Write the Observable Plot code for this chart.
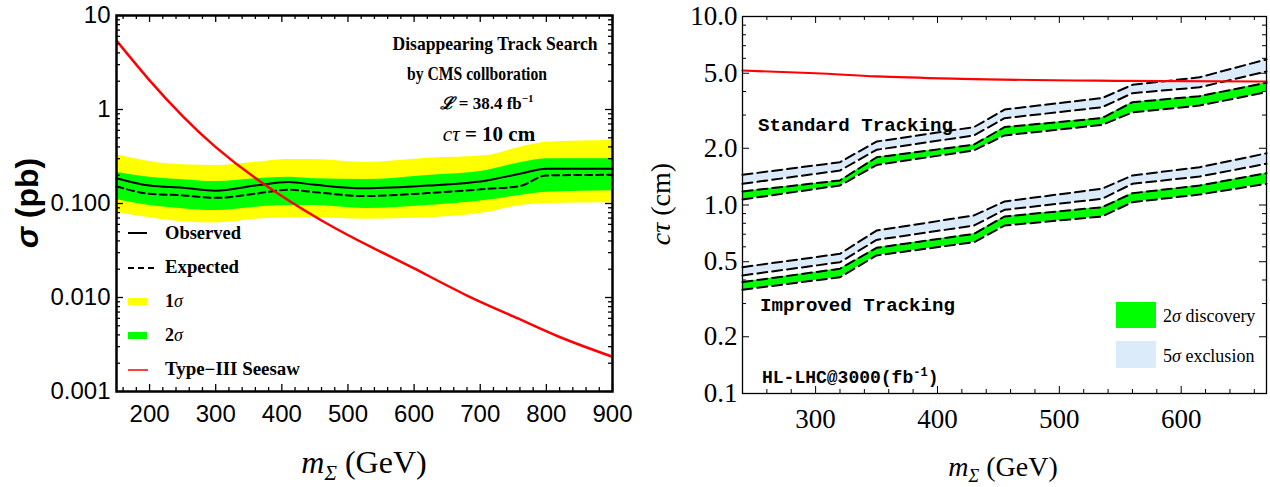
<!DOCTYPE html>
<html><head><meta charset="utf-8">
<script src="https://cdn.jsdelivr.net/npm/d3@7"></script>
<script src="https://cdn.jsdelivr.net/npm/@observablehq/plot@0.6"></script>
<style>
body{margin:0;background:#fff;}
#wrap{position:relative;width:1270px;height:487px;display:flex;background:#fff;}
#wrap svg{display:block;flex:none;}
</style></head><body><div id="wrap"></div>
<script>
// ---------- Left panel data (sigma in pb vs m_Sigma in GeV) ----------
const massL      = [150, 200, 250, 300, 360, 410, 450, 525, 620, 710, 760, 800, 900];
const observed   = [0.186, 0.155, 0.147, 0.137, 0.155, 0.169, 0.158, 0.145, 0.155, 0.176, 0.207, 0.234, 0.234];
const expected   = [0.152, 0.127, 0.122, 0.115, 0.127, 0.140, 0.132, 0.120, 0.129, 0.143, 0.153, 0.199, 0.202];
const greenHi    = [0.215, 0.190, 0.179, 0.171, 0.183, 0.190, 0.183, 0.180, 0.199, 0.225, 0.271, 0.299, 0.299];
const greenLo    = [0.110, 0.095, 0.088, 0.084, 0.0914, 0.095, 0.095, 0.0885, 0.095, 0.108, 0.122, 0.132, 0.137];
const yellowHi   = [0.330, 0.280, 0.258, 0.254, 0.275, 0.294, 0.294, 0.273, 0.303, 0.324, 0.397, 0.449, 0.468];
const yellowLo   = [0.080, 0.0705, 0.064, 0.062, 0.068, 0.0705, 0.0705, 0.068, 0.0705, 0.080, 0.095, 0.100, 0.102];
const massSeesaw = [150, 200, 250, 300, 370, 460, 540, 600, 680, 750, 820, 900];
const sigmaSeesaw= [5.4, 2.04, 0.85, 0.398, 0.166, 0.066, 0.0331, 0.0204, 0.0105, 0.0063, 0.0038, 0.00234];
const xTicksL = [200, 300, 400, 500, 600, 700, 800, 900];
const yTicksL = [0.001, 0.01, 0.1, 1, 10];
const yTickLabelsL = ["0.001", "0.010", "0.100", "1", "10"];

// ---------- Right panel data (c tau in cm vs m_Sigma in GeV) ----------
const massR = [240, 320, 350, 430, 455, 535, 560, 615, 670];
const std5Hi = [1.446, 1.687, 2.17, 2.59, 3.21, 3.69, 4.34, 4.76, 5.92];
const std5Lo = [1.296, 1.524, 1.963, 2.34, 2.887, 3.30, 3.92, 4.21, 5.11];
const std2Hi = [1.18, 1.35, 1.79, 2.09, 2.59, 2.89, 3.51, 3.78, 4.45];
const std2Lo = [1.07, 1.27, 1.63, 1.95, 2.34, 2.66, 3.10, 3.37, 3.97];
const imp5Hi = [0.468, 0.551, 0.732, 0.880, 1.044, 1.22, 1.434, 1.587, 1.88];
const imp5Lo = [0.423, 0.497, 0.653, 0.778, 0.943, 1.079, 1.296, 1.416, 1.655];
const imp2Hi = [0.390, 0.459, 0.593, 0.703, 0.869, 0.973, 1.155, 1.269, 1.475];
const imp2Lo = [0.355, 0.414, 0.540, 0.635, 0.778, 0.869, 1.035, 1.137, 1.296];
const massRed = [240, 300, 350, 420, 550, 670];
const ctauRed = [5.17, 5.0, 4.81, 4.67, 4.56, 4.52];
const xTicksR = [300, 400, 500, 600];
const yTicksR = [0.1, 0.2, 0.5, 1, 2, 5, 10];
const yTickLabelsR = ["0.1", "0.2", "0.5", "1.0", "2.0", "5.0", "10.0"];

// ---------- derived tables ----------
const dataL = massL.map((m, i) => ({m, obs: observed[i], exp: expected[i], gHi: greenHi[i], gLo: greenLo[i], yHi: yellowHi[i], yLo: yellowLo[i]}));
const seesawL = massSeesaw.map((m, i) => ({m, s: sigmaSeesaw[i]}));
const dataR = massR.map((m, i) => ({m, s5Hi: std5Hi[i], s5Lo: std5Lo[i], s2Hi: std2Hi[i], s2Lo: std2Lo[i], i5Hi: imp5Hi[i], i5Lo: imp5Lo[i], i2Hi: imp2Hi[i], i2Lo: imp2Lo[i]}));
const redR = massRed.map((m, i) => ({m, c: ctauRed[i]}));

function logMinors(lo, hi) {
  const out = [];
  for (let d = lo; d < hi * 0.999; d *= 10) for (let k = 2; k <= 9; k++) out.push(d * k);
  return out;
}
function frameTicks(xMaj, xMin, yMaj, yMin, W, H, maj, min, sw) {
  const o = {stroke: "black", strokeWidth: sw};
  return [
    Plot.tickX(xMaj, {x: d => d, insetTop: H - maj, ...o}),
    Plot.tickX(xMaj, {x: d => d, insetBottom: H - maj, ...o}),
    Plot.tickX(xMin, {x: d => d, insetTop: H - min, ...o}),
    Plot.tickX(xMin, {x: d => d, insetBottom: H - min, ...o}),
    Plot.tickY(yMaj, {y: d => d, insetRight: W - maj, ...o}),
    Plot.tickY(yMaj, {y: d => d, insetLeft: W - maj, ...o}),
    Plot.tickY(yMin, {y: d => d, insetRight: W - min, ...o}),
    Plot.tickY(yMin, {y: d => d, insetLeft: W - min, ...o})
  ];
}
function addText(svg, {x, y, anchor = "start", size, family, weight = "normal", style = "normal", rotate = 0, html, len}) {
  const t = d3.select(svg).append("text")
    .attr("x", x).attr("y", y).attr("text-anchor", anchor)
    .attr("font-size", size).attr("font-family", family)
    .attr("font-weight", weight).attr("font-style", style).attr("fill", "black");
  if (rotate) t.attr("transform", `rotate(${rotate},${x},${y})`);
  if (len) t.attr("textLength", len).attr("lengthAdjust", "spacingAndGlyphs");
  t.html(html);
  return t;
}

// ---------- Left chart ----------
const mL = {l: 116, r: 28, t: 15, b: 96}, wL = 640, hL = 487;
const WL = wL - mL.l - mL.r, HL = hL - mL.t - mL.b;
const xMinorL = d3.range(160, 900, 20).filter(d => d % 100 !== 0);
const left = Plot.plot({
  width: wL, height: hL,
  marginLeft: mL.l, marginRight: mL.r, marginTop: mL.t, marginBottom: mL.b,
  x: {domain: [150, 900]},
  y: {type: "log", domain: [0.001, 10]},
  style: {fontFamily: "Liberation Sans", fontSize: "24px", color: "black", background: "white"},
  marks: [
    Plot.areaY(dataL, {x: "m", y1: "yLo", y2: "yHi", fill: "#ffff00", curve: "monotone-x"}),
    Plot.areaY(dataL, {x: "m", y1: "gLo", y2: "gHi", fill: "#00ff00", curve: "monotone-x"}),
    Plot.line(dataL, {x: "m", y: "obs", stroke: "black", strokeWidth: 2, curve: "monotone-x"}),
    Plot.line(dataL, {x: "m", y: "exp", stroke: "black", strokeWidth: 2, strokeDasharray: "7,4", curve: "monotone-x"}),
    Plot.line(seesawL, {x: "m", y: "s", stroke: "#ff0000", strokeWidth: 2.5, curve: "natural", clip: true}),
    ...frameTicks(xTicksL, xMinorL, yTicksL, logMinors(0.001, 10), WL, HL, 7, 4, 1.3),
    Plot.frame({stroke: "black", strokeWidth: 2.5}),
    Plot.axisX({ticks: xTicksL, tickSize: 0, tickPadding: 13, fontSize: 24, label: null, tickFormat: d => String(d)}),
    Plot.axisY({ticks: yTicksL, tickSize: 0, tickPadding: 6, fontSize: 24, label: null, tickFormat: d => yTickLabelsL[yTicksL.indexOf(d)]})
  ]
});

// annotations left
const serif = "Liberation Serif";
addText(left, {x: 495, y: 50, anchor: "middle", size: 19, family: serif, weight: "bold", html: "Disappearing Track Search", len: 205});
addText(left, {x: 477, y: 80, anchor: "middle", size: 18, family: serif, weight: "bold", html: "by CMS collboration", len: 140});
addText(left, {x: 487, y: 109, anchor: "middle", size: 17, family: serif, weight: "bold",
  html: '<tspan font-style="italic">ℒ</tspan> = 38.4 fb<tspan font-size="11" dy="-7">−1</tspan>'});
addText(left, {x: 489, y: 141, anchor: "middle", size: 21, family: serif, weight: "bold",
  html: '<tspan font-style="italic" font-weight="normal">cτ</tspan> = 10 cm'});
// legend left
const lg = d3.select(left).append("g");
lg.append("line").attr("x1", 128).attr("x2", 147).attr("y1", 233).attr("y2", 233).attr("stroke", "black").attr("stroke-width", 2);
lg.append("line").attr("x1", 128).attr("x2", 157).attr("y1", 268).attr("y2", 268).attr("stroke", "black").attr("stroke-width", 2).attr("stroke-dasharray", "6,4");
lg.append("rect").attr("x", 128).attr("y", 298).attr("width", 19).attr("height", 7).attr("fill", "#ffff00");
lg.append("rect").attr("x", 128).attr("y", 332).attr("width", 19).attr("height", 7).attr("fill", "#00ff00");
lg.append("line").attr("x1", 128).attr("x2", 148).attr("y1", 370).attr("y2", 370).attr("stroke", "#ff0000").attr("stroke-width", 1.5);
addText(left, {x: 165, y: 239, size: 18, family: serif, weight: "bold", html: "Observed", len: 76});
addText(left, {x: 165, y: 273, size: 18, family: serif, weight: "bold", html: "Expected", len: 74});
addText(left, {x: 165, y: 307, size: 18, family: serif, weight: "bold", html: '1<tspan font-style="italic" font-weight="normal">σ</tspan>'});
addText(left, {x: 165, y: 341, size: 18, family: serif, weight: "bold", html: '2<tspan font-style="italic" font-weight="normal">σ</tspan>'});
addText(left, {x: 165, y: 375, size: 18, family: serif, weight: "bold", html: "Type−III Seesaw", len: 135});
// axis titles left
addText(left, {x: 38, y: 203, anchor: "middle", size: 32, family: "Liberation Sans", weight: "bold", rotate: -90,
  html: '<tspan font-style="italic">σ</tspan> (pb)'});
addText(left, {x: 364, y: 473, anchor: "middle", size: 32, family: serif,
  html: '<tspan font-style="italic">m</tspan><tspan font-style="italic" font-size="21" dy="7">Σ</tspan><tspan dy="-7"> (GeV)</tspan>'});

// ---------- Right chart ----------
const mR = {l: 102, r: 4, t: 16, b: 94}, wR = 630, hR = 487;
const WR = wR - mR.l - mR.r, HR = hR - mR.t - mR.b;
const xMinorR = d3.range(240, 671, 20).filter(d => d % 100 !== 0);
const dashed = {stroke: "black", strokeWidth: 2, strokeDasharray: "10,5"};
const right = Plot.plot({
  width: wR, height: hR,
  marginLeft: mR.l, marginRight: mR.r, marginTop: mR.t, marginBottom: mR.b,
  x: {domain: [240, 670]},
  y: {type: "log", domain: [0.1, 10]},
  style: {fontFamily: serif, fontSize: "27px", color: "black", background: "white"},
  marks: [
    Plot.areaY(dataR, {x: "m", y1: "s5Lo", y2: "s5Hi", fill: "#dcebfa"}),
    Plot.areaY(dataR, {x: "m", y1: "s2Lo", y2: "s2Hi", fill: "#00ff00"}),
    Plot.areaY(dataR, {x: "m", y1: "i5Lo", y2: "i5Hi", fill: "#dcebfa"}),
    Plot.areaY(dataR, {x: "m", y1: "i2Lo", y2: "i2Hi", fill: "#00ff00"}),
    ...["s5Hi", "s5Lo", "s2Hi", "s2Lo", "i5Hi", "i5Lo", "i2Hi", "i2Lo"].map(k => Plot.line(dataR, {x: "m", y: k, ...dashed})),
    Plot.line(redR, {x: "m", y: "c", stroke: "#ff0000", strokeWidth: 2.2, curve: "monotone-x"}),
    ...frameTicks(xTicksR, xMinorR, yTicksR, logMinors(0.1, 10).filter(d => !yTicksR.includes(d)), WR, HR, 7, 4, 1),
    Plot.frame({stroke: "black", strokeWidth: 1.3}),
    Plot.axisX({ticks: xTicksR, tickSize: 0, tickPadding: 15, fontSize: 27, label: null, tickFormat: d => String(d)}),
    Plot.axisY({ticks: yTicksR, tickSize: 0, tickPadding: 5, fontSize: 27, label: null, tickFormat: d => yTickLabelsR[yTicksR.indexOf(d)]})
  ]
});
const mono = "Liberation Mono";
addText(right, {x: 118, y: 131, size: 18, family: mono, weight: "bold", html: "Standard Tracking", len: 195});
addText(right, {x: 120, y: 311, size: 18, family: mono, weight: "bold", html: "Improved Tracking", len: 195});
addText(right, {x: 122, y: 383, size: 18, family: mono, weight: "bold",
  html: 'HL-LHC@3000(fb<tspan font-size="12" dy="-7">-1</tspan><tspan dy="7">)</tspan>'});
const lr = d3.select(right).append("g");
lr.append("rect").attr("x", 476).attr("y", 302).attr("width", 40).attr("height", 26).attr("fill", "#00ff00");
lr.append("rect").attr("x", 476).attr("y", 341).attr("width", 40).attr("height", 27).attr("fill", "#dcebfa");
addText(right, {x: 523, y: 322, size: 18, family: serif, html: '2<tspan font-style="italic">σ</tspan> discovery'});
addText(right, {x: 523, y: 362, size: 18, family: serif, html: '5<tspan font-style="italic">σ</tspan> exclusion'});
addText(right, {x: 30, y: 204, anchor: "middle", size: 28, family: serif, rotate: -90,
  html: '<tspan font-style="italic">cτ</tspan> (cm)'});
addText(right, {x: 363, y: 476, anchor: "middle", size: 28, family: serif,
  html: '<tspan font-style="italic">m</tspan><tspan font-style="italic" font-size="18" dy="6">Σ</tspan><tspan dy="-6"> (GeV)</tspan>'});

document.getElementById("wrap").append(left, right);
</script></body></html>
